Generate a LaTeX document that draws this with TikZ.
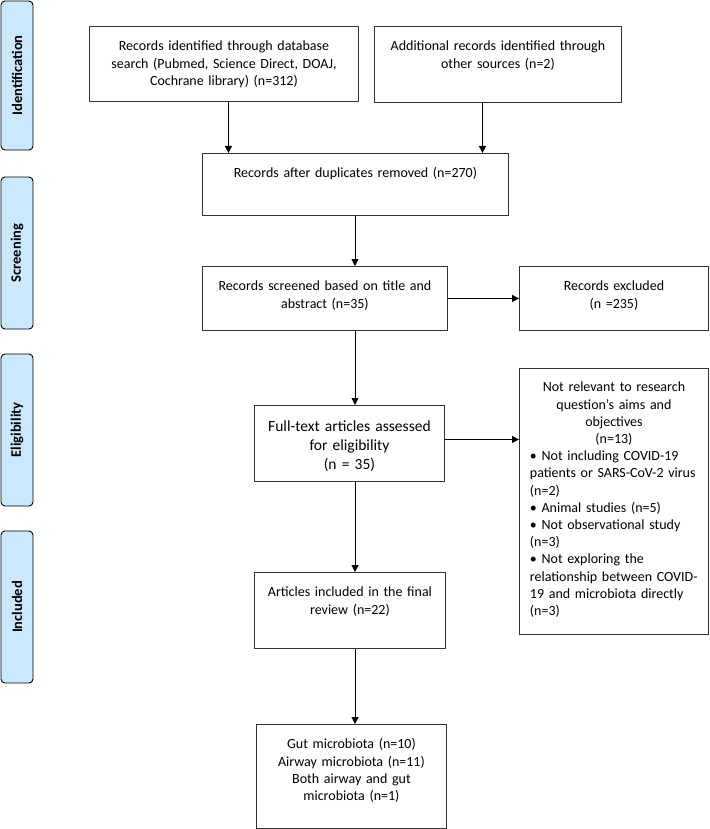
\documentclass[tikz,border=0pt]{standalone}
\usepackage{fontspec}
\setmainfont{Carlito}
\usepackage{graphicx}
\usepackage{tikz}
\usetikzlibrary{shapes,arrows.meta,positioning}

\definecolor{stagefill}{RGB}{204,232,255}

\tikzset{
	box/.style={draw=black!80, line width=0.9pt, anchor=north west, inner xsep=0pt, inner ysep=0pt,
		align=center, font=\fontsize{14}{17.2}\selectfont, text height=24.5pt},
	stage/.style={draw, line width=0.9pt, rounded corners=4pt, fill=stagefill,
		minimum width=32pt, inner sep=0pt, font=\fontsize{14.5}{17}\selectfont\bfseries},
	arr/.style={-{Triangle[length=7pt,width=7pt]}, line width=0.9pt}
}

\begin{document}
\begin{tikzpicture}[x=1pt, y=-1pt]
	\useasboundingbox (0,0) rectangle (709,829);
	
	% stages
	\node[stage, minimum height=149pt] (ident) at (17,75.5) {\rotatebox{90}{Identification}};
	\node[stage, minimum height=152pt] (screen) at (17,253) {\rotatebox{90}{Screening}};
	\node[stage, minimum height=152pt] (elig) at (17,430) {\rotatebox{90}{Eligibility}};
	\node[stage, minimum height=152pt] (incl) at (17,607) {\rotatebox{90}{Included}};
	
	% boxes
	\node[box, text width=269pt, text depth=50.5pt] (b1) at (89,26) {Records identified through database\\ search (Pubmed, Science Direct, DOAJ,\\ Cochrane library) (n=312)};
	\node[box, text width=247pt, text depth=51.5pt] (b2) at (374,26) {Additional records identified through\\ other sources (n=2)};
	\node[box, text width=306pt, text depth=37.5pt] (b3) at (202,153) {Records after duplicates removed (n=270)};
	\node[box, text width=245pt, text depth=39.5pt] (b4) at (202,266) {Records screened based on title and\\ abstract (n=35)};
	\node[box, text width=189pt, text depth=39.5pt] (b5) at (519,266) {Records excluded\\ (n =235)};
	\node[box, text width=190pt, text height=26pt, text depth=50pt, font=\fontsize{15.5}{19}\selectfont] (b6) at (254,405) {Full-text articles assessed\\ for eligibility\\ (n = 35)};
	\node[box, text width=168pt, inner xsep=10.5pt, text height=23.5pt, text depth=242.5pt, align=left] (b7) at (519,368) {\centering Not relevant to research\\ question's aims and\\ objectives\\ (n=13)\par
		\raggedright \textbullet\ Not including COVID-19\\ patients or SARS-CoV-2 virus\\ (n=2)\\ \textbullet\ Animal studies (n=5)\\ \textbullet\ Not observational study\\ (n=3)\\ \textbullet\ Not exploring the\\ relationship between COVID-\\ 19 and microbiota directly\\ (n=3)};
	\node[box, text width=191pt, text depth=51.5pt] (b8) at (254,572) {Articles included in the final\\ review (n=22)};
	\node[box, text width=190pt, text depth=79.5pt] (b9) at (256,724) {Gut microbiota (n=10)\\ Airway microbiota (n=11)\\ Both airway and gut\\ microbiota (n=1)};
	
	\coordinate (spine) at (355,0);
	
	\draw[arr] ([xshift=4.5pt]b1.south) -- ([xshift=4.5pt]b1.south |- b3.north);
	\draw[arr] ([xshift=-15.5pt]b2.south) -- ([xshift=-15.5pt]b2.south |- b3.north);
	\draw[arr] (b3.south -| spine) -- (b4.north -| spine);
	\draw[arr] (b4.east) -- (b5.west);
	\draw[arr] (b4.south -| spine) -- (b6.north -| spine);
	\draw[arr] ([yshift=4pt]b6.east) -- ([yshift=4pt]b6.east -| b7.west);
	\draw[arr] (b6.south -| spine) -- (b8.north -| spine);
	\draw[arr] (b8.south -| spine) -- (b9.north -| spine);
\end{tikzpicture}
\end{document}
